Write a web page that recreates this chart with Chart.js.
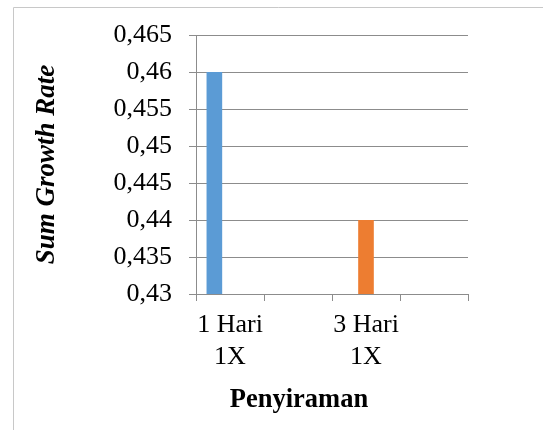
<!DOCTYPE html>
<html><head><meta charset="utf-8">
<script src="https://cdn.jsdelivr.net/npm/chart.js@4"></script>
<style>html,body{margin:0;padding:0;background:#fff;overflow:hidden;}</style>
</head><body>
<canvas id="c" width="543" height="430" style="width:543px;height:430px;display:block"></canvas>
<script>
// ---- data ----
const categories = [['1 Hari', '1X'], '', ['3 Hari', '1X'], ''];
const series1 = [0.46, null, null, null];
const series2 = [null, null, 0.44, null];
const series3 = [null, null, null, null];
const yMin = 0.43;
const yMax = 0.465;
const yStep = 0.005;
const yTitle = 'Sum Growth Rate';
const xTitle = 'Penyiraman';

// ---- style ----
const FONT = "'Liberation Serif', 'Times New Roman', serif";
const GRID = '#8c8c8c';

const frame = {
  id: 'frame',
  beforeDraw(chart) {
    const ctx = chart.ctx;
    ctx.save();
    ctx.strokeStyle = '#c8c8c8';
    ctx.lineWidth = 1;
    ctx.beginPath();
    ctx.moveTo(13.5, 430);
    ctx.lineTo(13.5, 7.5);
    ctx.lineTo(543, 7.5);
    ctx.stroke();
    ctx.restore();
  }
};

const xTitlePlugin = {
  id: 'xTitlePlugin',
  afterDraw(chart) {
    const ctx = chart.ctx;
    const a = chart.chartArea;
    ctx.save();
    ctx.font = 'bold 26.5px ' + FONT;
    ctx.fillStyle = '#000';
    ctx.textAlign = 'center';
    ctx.textBaseline = 'middle';
    ctx.fillText(xTitle, a.left + 103, a.bottom + 106);
    ctx.restore();
  }
};

new Chart(document.getElementById('c'), {
  type: 'bar',
  data: {
    labels: categories,
    datasets: [
      { label: 'Series1', data: series1, backgroundColor: '#5B9BD5' },
      { label: 'Series2', data: series2, backgroundColor: '#ED7D31' },
      { label: 'Series3', data: series3, backgroundColor: '#A5A5A5' }
    ]
  },
  options: {
    responsive: false,
    animation: false,
    devicePixelRatio: 1,
    categoryPercentage: 0.69,
    barPercentage: 1,
    layout: { padding: { left: 0, right: 75, top: 35, bottom: 0 } },
    plugins: { legend: { display: false }, tooltip: { enabled: false } },
    scales: {
      x: {
        afterFit(s) { s.height = 136; },
        grid: { offset: true, drawOnChartArea: false, drawTicks: true, tickLength: 7, color: GRID },
        border: { display: true, color: GRID },
        ticks: { font: { family: FONT, size: 26, lineHeight: 1.2 }, color: '#000', padding: 9, maxRotation: 0, autoSkip: false }
      },
      y: {
        min: yMin,
        max: yMax,
        afterFit(s) { s.width = 196; },
        grid: { color: GRID, tickLength: 7 },
        border: { display: true, color: GRID },
        ticks: {
          stepSize: yStep,
          padding: 17,
          color: '#000',
          font: { family: FONT, size: 26 },
          callback: v => String(+(+v).toFixed(3)).replace('.', ',')
        },
        title: {
          display: true,
          text: yTitle,
          color: '#000',
          font: { family: FONT, size: 27, weight: 'bold', style: 'italic', lineHeight: 1.2 },
          padding: { top: 31, bottom: 0 }
        }
      }
    }
  },
  plugins: [frame, xTitlePlugin]
});
</script>
</body></html>
